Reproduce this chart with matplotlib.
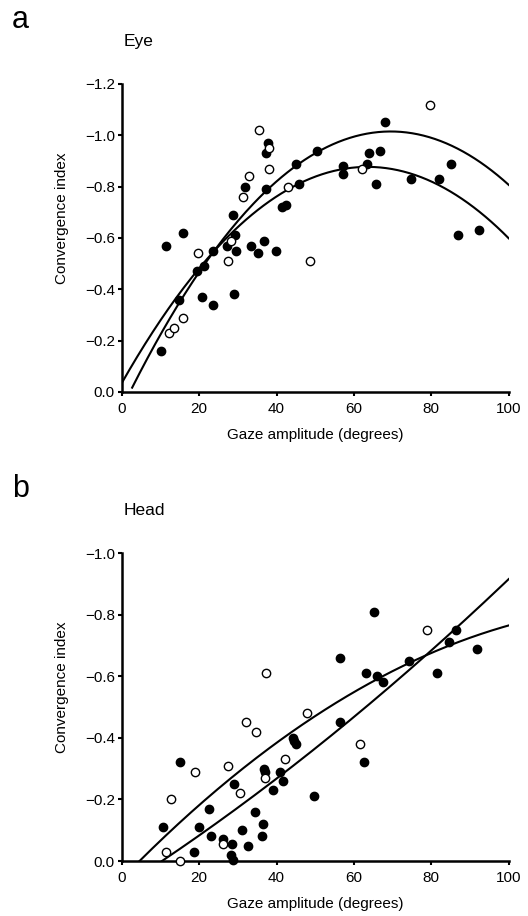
import numpy as np
import matplotlib.pyplot as plt

plt.rcParams['font.family'] = ['Liberation Sans', 'DejaVu Sans']

# panel a - eye
eye_filled_x = [11.5, 15.8, 10.2, 14.9, 19.4, 21.3, 20.8, 23.7, 23.5, 27.2, 29.3, 29.6, 29.1,
                28.8, 31.9, 33.4, 35.3, 36.8, 39.8, 37.2, 37.4, 37.9, 41.4, 42.4, 45.1, 45.8,
                50.5, 57.2, 57.2, 63.4, 63.8, 65.8, 66.7, 68.0, 74.8, 82.1, 85.2, 87.0, 92.3]
eye_filled_y = [-0.57, -0.62, -0.16, -0.36, -0.47, -0.49, -0.37, -0.34, -0.55, -0.57, -0.61, -0.55, -0.38,
                -0.69, -0.80, -0.57, -0.54, -0.59, -0.55, -0.79, -0.93, -0.97, -0.72, -0.73, -0.89, -0.81,
                -0.94, -0.88, -0.85, -0.89, -0.93, -0.81, -0.94, -1.05, -0.83, -0.83, -0.89, -0.61, -0.63]
eye_open_x = [12.1, 13.4, 15.8, 19.6, 27.4, 28.2, 31.3, 33.0, 35.5, 38.1, 38.1, 42.9, 48.6, 62.2, 79.6]
eye_open_y = [-0.23, -0.25, -0.29, -0.54, -0.51, -0.59, -0.76, -0.84, -1.02, -0.95, -0.87, -0.80, -0.51, -0.87, -1.12]

# fitted curves: start, end, quadratic coefficients in (x - start)
eye_fit1 = (0.0, 100.0, [-0.000209, 0.026543, 0.0343])
eye_fit2 = (2.7, 100.0, [-0.0002237, 0.029886, 0.0168])

# panel b - head
head_filled_x = [10.6, 15.1, 18.6, 20.0, 22.5, 23.1, 26.3, 28.5, 28.2, 28.7, 28.9, 31.1, 32.6,
                 34.4, 36.4, 36.2, 36.7, 37.0, 39.1, 40.8, 41.7, 44.3, 44.6, 45.1, 49.8, 56.5,
                 56.5, 63.2, 62.7, 65.3, 66.0, 67.4, 74.2, 81.4, 84.6, 86.5, 91.7]
head_filled_y = [-0.11, -0.32, -0.03, -0.11, -0.17, -0.08, -0.07, -0.055, -0.02, -0.005, -0.25, -0.10, -0.05,
                 -0.16, -0.12, -0.08, -0.30, -0.29, -0.23, -0.29, -0.26, -0.40, -0.39, -0.38, -0.21, -0.45,
                 -0.66, -0.61, -0.32, -0.81, -0.60, -0.58, -0.65, -0.61, -0.71, -0.75, -0.69]
head_open_x = [11.5, 12.7, 15.1, 19.0, 26.3, 27.4, 30.6, 32.2, 34.6, 37.0, 37.3, 42.2, 47.9, 61.7, 78.9]
head_open_y = [-0.03, -0.20, 0.0, -0.29, -0.055, -0.31, -0.22, -0.45, -0.42, -0.27, -0.61, -0.33, -0.48, -0.38, -0.75]

head_fit1 = (10.4, 100.0, [1.964e-5, 0.008459, 0.0])
head_fit2 = (4.6, 100.0, [-4.703e-5, 0.012506, 0.0])

panels = [
    ('a', 'Eye', eye_filled_x, eye_filled_y, eye_open_x, eye_open_y, [eye_fit1, eye_fit2], -1.2, 0.5721),
    ('b', 'Head', head_filled_x, head_filled_y, head_open_x, head_open_y, [head_fit1, head_fit2], -1.0, 0.0600),
]


def fmt(v, pos):
    s = '%.1f' % v
    if s == '-0.0':
        s = '0.0'
    return s.replace('-', '\u2212')


fig = plt.figure(figsize=(5.28, 9.16), dpi=100)

for letter, title, fx, fy, ox, oy, fits, ymin, bottom in panels:
    ax = fig.add_axes([0.2305, bottom, 0.733, 0.3362])
    for x0, x1, coef in fits:
        xs = np.linspace(x0, x1, 200)
        ax.plot(xs, -np.polyval(coef, xs - x0), color='black', lw=1.5, zorder=2)
    ax.plot(fx, fy, 'o', color='black', ms=6, clip_on=False, zorder=3)
    ax.plot(ox, oy, 'o', mfc='white', mec='black', mew=1.0, ms=6, clip_on=False, zorder=3)

    ax.set_xlim(0, 100)
    ax.set_ylim(0, ymin)
    ax.set_xticks([0, 20, 40, 60, 80, 100])
    ax.set_yticks(np.arange(0, ymin - 0.01, -0.2))
    ax.yaxis.set_major_formatter(plt.FuncFormatter(fmt))
    ax.spines['top'].set_visible(False)
    ax.spines['right'].set_visible(False)
    ax.spines['left'].set_linewidth(1.8)
    ax.spines['bottom'].set_linewidth(1.8)
    ax.tick_params(direction='out', length=3, width=1.5, labelsize=11, pad=2)
    ax.tick_params(axis='x', pad=4)
    ax.set_xlabel('Gaze amplitude (degrees)', fontsize=11, labelpad=9)
    ax.set_ylabel('Convergence index', fontsize=11)
    ax.yaxis.set_label_coords(-0.135, 0.565)

    top = bottom + 0.3362
    fig.text(0.022, top + 0.061, letter, fontsize=22, va='baseline')
    fig.text(0.235, top + 0.042, title, fontsize=12.5, va='baseline')

fig.savefig('out.png', dpi=100)
